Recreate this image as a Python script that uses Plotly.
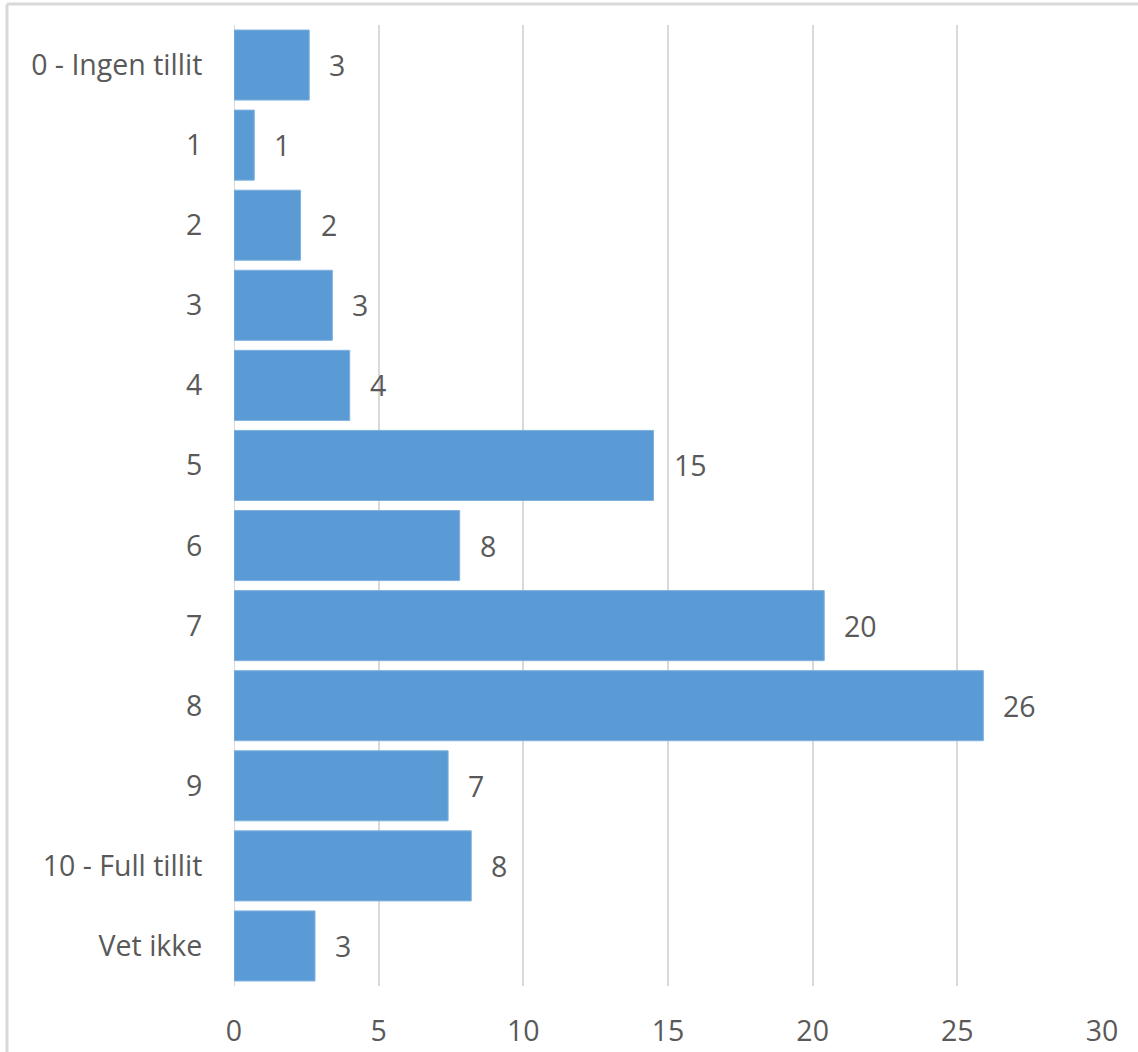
import plotly.graph_objects as go

categories = ["0 - Ingen tillit", "1", "2", "3", "4", "5", "6", "7", "8", "9", "10 - Full tillit", "Vet ikke"]
values = [2.6, 0.7, 2.3, 3.4, 4.0, 14.5, 7.8, 20.4, 25.9, 7.4, 8.2, 2.8]
labels = ["3", "1", "2", "3", "4", "15", "8", "20", "26", "7", "8", "3"]
x_ticks = [0, 5, 10, 15, 20, 25, 30]

FONT = "Segoe UI, Open Sans, sans-serif"
TXT = "#595959"
GRID = "#D9D9D9"
FS = 28.5

fig = go.Figure()
fig.add_trace(go.Bar(
    x=values, y=categories, orientation="h",
    marker=dict(color="#5B9BD5", line=dict(color="#7FB2E0", width=1)),
    hoverinfo="skip",
))

annotations = [
    dict(x=v, y=c, text=t, xref="x", yref="y", xanchor="left", yanchor="middle",
         xshift=18, showarrow=False, font=dict(family=FONT, size=FS, color=TXT))
    for v, c, t in zip(values, categories, labels)
]

W, H = 1138, 1052
ml, mr, mt, mb = 234, 36, 25, 66
pw, ph = W - ml - mr, H - mt - mb

def px2x(px):
    return (px - ml) / pw

def py2y(py):
    return (H - mb - py) / ph

shapes = [
    dict(type="line", xref="paper", yref="paper", x0=px2x(7), x1=px2x(W + 5),
         y0=py2y(4), y1=py2y(4), line=dict(color=GRID, width=3)),
    dict(type="line", xref="paper", yref="paper", x0=px2x(7), x1=px2x(7),
         y0=py2y(4), y1=py2y(H + 5), line=dict(color=GRID, width=3)),
]

fig.update_layout(
    width=W, height=H,
    margin=dict(l=ml, r=mr, t=mt, b=mb, pad=0, autoexpand=False),
    plot_bgcolor="white", paper_bgcolor="white",
    bargap=0.125,
    showlegend=False,
    font=dict(family=FONT, size=FS, color=TXT),
    annotations=annotations,
    shapes=shapes,
    xaxis=dict(
        range=[0, 30], tickvals=x_ticks, showgrid=True, gridcolor=GRID, gridwidth=2,
        zeroline=False, showline=False, ticks="outside", ticklen=20, tickcolor="rgba(0,0,0,0)",
        tickfont=dict(family=FONT, size=FS, color=TXT), fixedrange=True, automargin=False,
    ),
    yaxis=dict(
        type="category", categoryorder="array", categoryarray=categories,
        autorange="reversed", showgrid=False, zeroline=False,
        showline=False, ticks="outside", ticklen=25, tickcolor="rgba(0,0,0,0)",
        tickfont=dict(family=FONT, size=FS, color=TXT), fixedrange=True, automargin=False,
    ),
)
fig.add_vline(x=0, line=dict(color=GRID, width=2), layer="below")

fig.write_html(
    "out.html",
    config={"displayModeBar": False},
    post_script="document.body.style.margin='0';document.body.style.padding='0';",
)
